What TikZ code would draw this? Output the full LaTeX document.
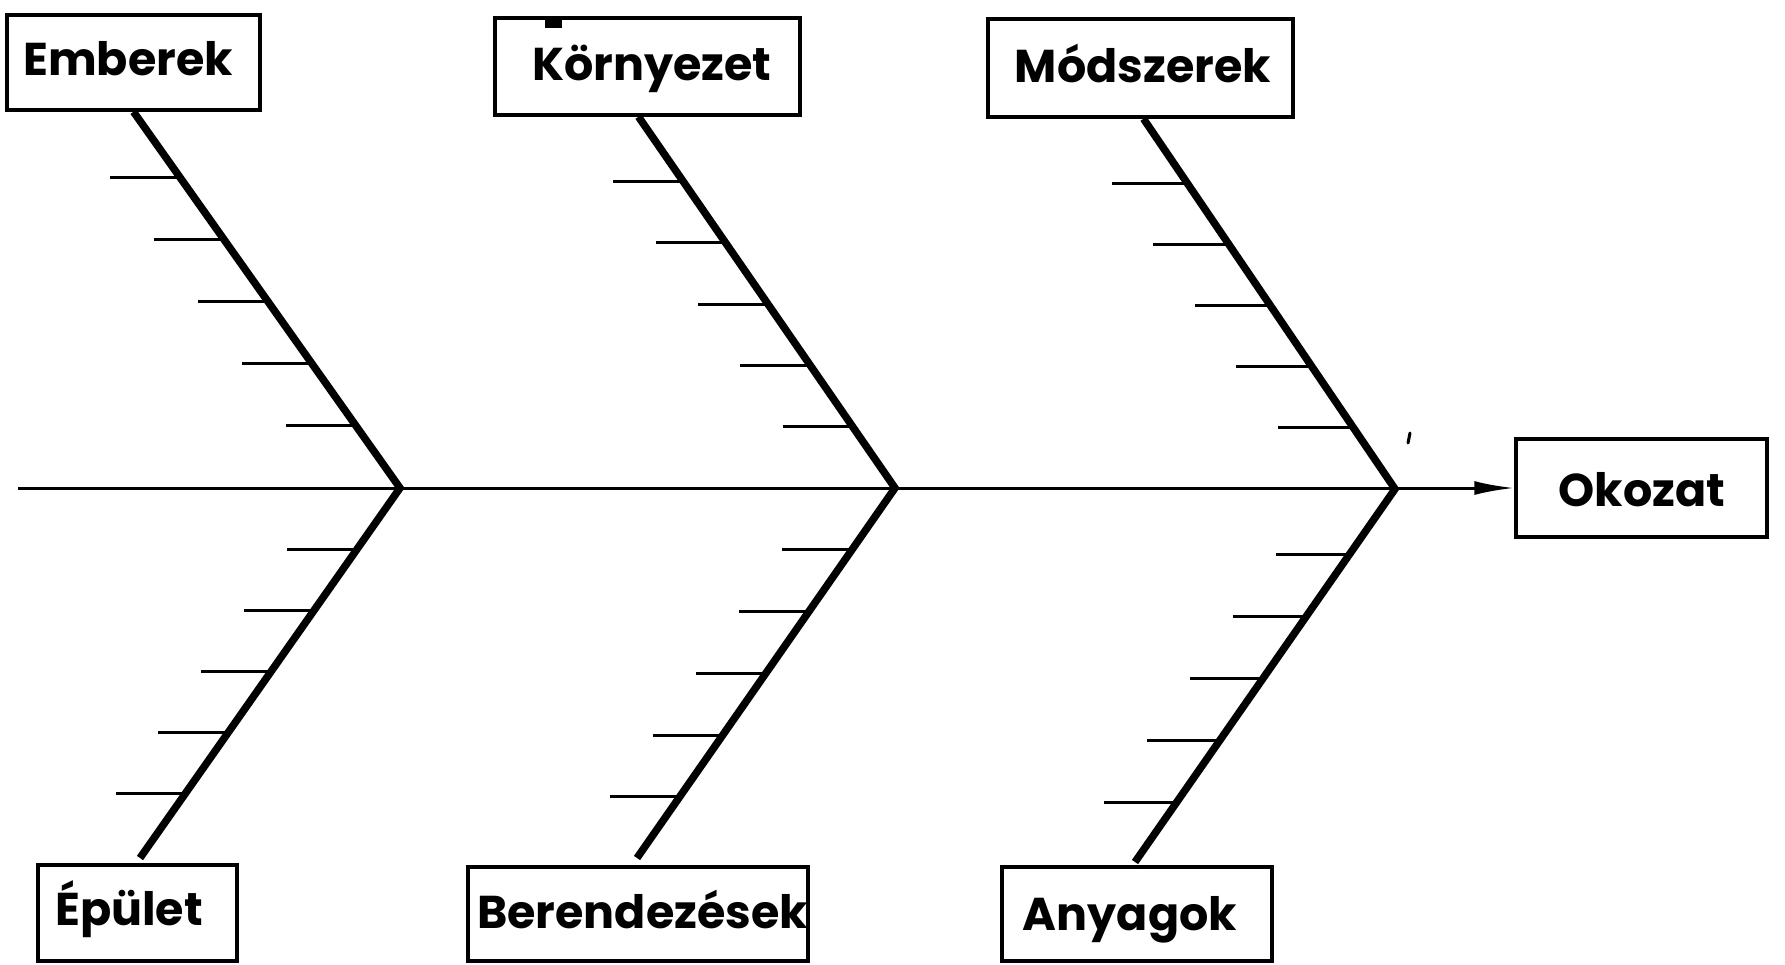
\documentclass[tikz,border=0pt]{standalone}
\usepackage{fontspec}
\newfontfamily\labfont{Poppins}
\usetikzlibrary{arrows.meta,calc}
\tikzset{
  box/.style={draw, line width=3.5pt, inner sep=0pt},
  lab/.style={font=\labfont\bfseries\fontsize{46}{50}\selectfont, inner sep=0pt, anchor=base},
  bone/.style={line width=7.5pt, line join=miter},
  tick/.style={line width=3pt},
  spine/.style={line width=3pt},
}
\begin{document}
\begin{tikzpicture}[x=1pt,y=-1pt]
\useasboundingbox[fill=white] (0,0) rectangle (1785,964);

% boxes
\node[box, minimum width=253pt, minimum height=95pt] (emb) at (133.5,62.5) {};
\node[box, minimum width=305pt, minimum height=97pt] (kor) at (647.5,66.5) {};
\node[box, minimum width=305pt, minimum height=98pt] (mod) at (1140.5,68) {};
\node[box, minimum width=251pt, minimum height=98pt] (oko) at (1641.5,488) {};
\node[box, minimum width=199pt, minimum height=96pt] (epu) at (137.5,913) {};
\node[box, minimum width=340pt, minimum height=94pt] (ber) at (638,914) {};
\node[box, minimum width=270pt, minimum height=94pt] (any) at (1137,914) {};

% labels
\node[lab] (embt) at (128,75) {Emberek};
\node[lab] (kort) at (652,80) {Környezet};
\node[lab] (modt) at (1143,82) {Módszerek};
\node[lab] (okot) at (1642,506) {Okozat};
\node[lab] (eput) at (129,925) {Épület};
\node[lab, anchor=base west] (bert) at (477,928) {Berendezések};
\node[lab] (anyt) at (1130,930) {Anyagok};

% junctions and free ends
\coordinate (tail) at (18,488);
\coordinate (j1) at (400,488);
\coordinate (j2) at (895,488);
\coordinate (j3) at (1395,489);
\coordinate (c1) at (140,858);
\coordinate (c2) at (637,858);
\coordinate (c3) at (1135,862);

% spine
\draw[spine, -{Latex[length=40pt,width=14pt]}] (tail) -- (oko.west);

% bones
\draw[bone] (emb.south) -- (j1) -- (c1);
\draw[bone] ([xshift=-9pt]kor.south) -- (j2) -- (c2);
\draw[bone] ([xshift=3pt]mod.south) -- (j3) -- (c3);

% ticks
\foreach \k in {1,...,5}{
  \draw[tick] ($(j1)!{\k*0.165}!(emb.south)$) -- ++(-70,0);
  \draw[tick] ($(j2)!{\k*0.165}!([xshift=-9pt]kor.south)$) -- ++(-70,0);
  \draw[tick] ($(j3)!{\k*0.165}!([xshift=3pt]mod.south)$) -- ++(-76,0);
  \draw[tick] ($(j1)!{\k*0.165}!(c1)$) -- ++(-70,0);
  \draw[tick] ($(j2)!{\k*0.167}!(c2)$) -- ++(-70,0);
  \draw[tick] ($(j3)!{0.01+\k*0.166}!(c3)$) -- ++(-73,0);
}

% scan marks
\fill (545,19) rectangle (562,28);
\draw[line width=3pt, line cap=round] (1410,433) -- (1408,443);
\end{tikzpicture}
\end{document}
